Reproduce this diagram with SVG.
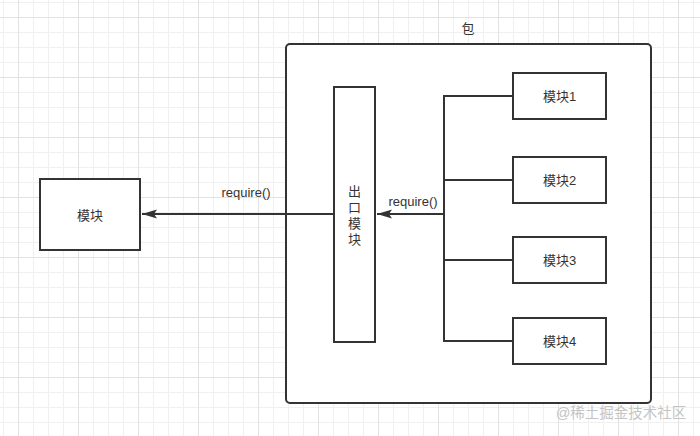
<svg xmlns="http://www.w3.org/2000/svg" width="700" height="436" viewBox="0 0 700 436">
<defs>
<pattern id="grid" patternUnits="userSpaceOnUse" x="18" y="17" width="60" height="60">
<rect x="0" y="0" width="60" height="60" fill="#ffffff"/>
<rect x="15" y="0" width="1" height="60" fill="#f0f0f0"/>
<rect x="30" y="0" width="1" height="60" fill="#f0f0f0"/>
<rect x="45" y="0" width="1" height="60" fill="#f0f0f0"/>
<rect x="0" y="15" width="60" height="1" fill="#f0f0f0"/>
<rect x="0" y="30" width="60" height="1" fill="#f0f0f0"/>
<rect x="0" y="45" width="60" height="1" fill="#f0f0f0"/>
<rect x="0" y="0" width="1" height="60" fill="#e2e2e2"/>
<rect x="0" y="0" width="60" height="1" fill="#e2e2e2"/>
</pattern>
<marker id="arrow" viewBox="0 0 15 10" refX="15" refY="5" markerWidth="15" markerHeight="10" markerUnits="userSpaceOnUse" orient="auto">
<path d="M15,5 L0,0.5 L3,5 L0,9.5 Z" fill="#333333"/>
</marker>
<style>
.box{fill:#ffffff;stroke:#333333;stroke-width:2}
.line{fill:none;stroke:#333333;stroke-width:2}
.t{font-family:"Liberation Sans","Noto Sans CJK SC",sans-serif;font-size:13px;fill:#333333;text-anchor:middle}
.wm{font-family:"Liberation Sans","Noto Sans CJK SC",sans-serif;font-size:14.5px;fill:#c4c4c4;text-anchor:middle}
</style>
</defs>
<rect x="0" y="0" width="700" height="436" fill="url(#grid)"/>

<g id="package">
<rect class="box" x="286" y="44" width="365" height="359" rx="4" ry="4"/>
<text class="t" x="468" y="33">包</text>
</g>

<g id="module-left">
<rect class="box" x="40" y="179" width="100" height="71"/>
<text class="t" x="90" y="219.5">模块</text>
</g>

<g id="exit-module">
<rect class="box" x="334" y="87" width="41" height="255"/>
<text class="t" x="354.5" y="195.5">出</text>
<text class="t" x="354.5" y="211.5">口</text>
<text class="t" x="354.5" y="227.5">模</text>
<text class="t" x="354.5" y="243.5">块</text>
</g>

<g id="module1">
<rect class="box" x="513" y="73" width="93" height="46"/>
<text class="t" x="559.5" y="100.5">模块1</text>
</g>
<g id="module2">
<rect class="box" x="513" y="157" width="93" height="46"/>
<text class="t" x="559.5" y="184.5">模块2</text>
</g>
<g id="module3">
<rect class="box" x="513" y="237" width="93" height="46"/>
<text class="t" x="559.5" y="264.5">模块3</text>
</g>
<g id="module4">
<rect class="box" x="513" y="318" width="93" height="46"/>
<text class="t" x="559.5" y="345.5">模块4</text>
</g>

<g id="connectors">
<path class="line" d="M513,96 H444 V341 H513"/>
<path class="line" d="M444,180 H513"/>
<path class="line" d="M444,260 H513"/>
<path class="line" d="M444,214 H377" marker-end="url(#arrow)"/>
<text class="t" x="413" y="206">require()</text>
<path class="line" d="M334,214 H142" marker-end="url(#arrow)"/>
<text class="t" x="246" y="197">require()</text>
</g>

<text class="wm" x="621" y="418">@稀土掘金技术社区</text>
</svg>
